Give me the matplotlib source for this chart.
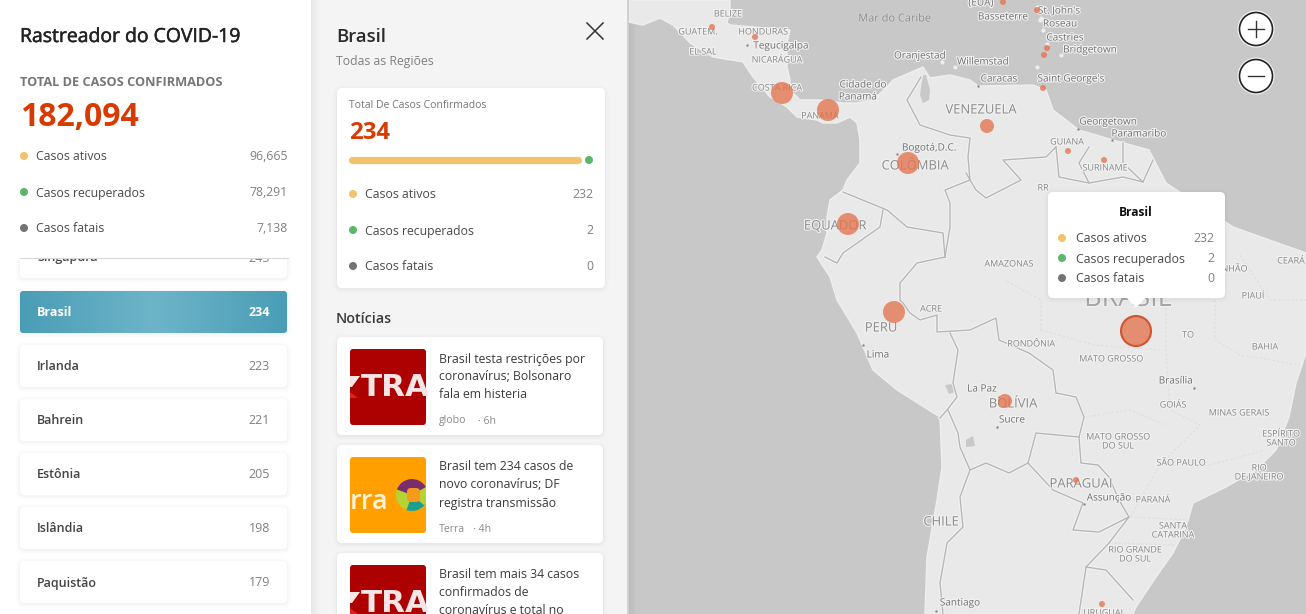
import matplotlib
matplotlib.use("Agg")
import matplotlib.patheffects as pe
import matplotlib.pyplot as plt
import numpy as np
from matplotlib.colors import LinearSegmentedColormap
from matplotlib.patches import Circle, FancyBboxPatch, Polygon, Rectangle, Wedge

plt.rcParams["font.family"] = ["Open Sans", "DejaVu Sans"]

# values
world_total = "182,094"
world_labels = ["Casos ativos", "Casos recuperados", "Casos fatais"]
world_values = ["96,665", "78,291", "7,138"]
country_names = ["Singapura", "Brasil", "Irlanda", "Bahrein", "Estônia", "Islândia", "Paquistão"]
country_values = [243, 234, 223, 221, 205, 198, 179]
brasil_total = 234
brasil_values = [232, 2, 0]
news_titles = [
    ["Brasil testa restrições por", "coronavírus; Bolsonaro", "fala em histeria"],
    ["Brasil tem 234 casos de", "novo coronavírus; DF", "registra transmissão"],
    ["Brasil tem mais 34 casos", "confirmados de", "coronavírus e total no"],
]
news_sources = ["globo", "Terra", ""]
news_ages = ["6h", "4h", ""]

# map bubbles, pixel positions on the screenshot
bubble_x = [782, 828, 908, 848, 987, 894, 1005, 1136, 1076, 1102, 712, 755, 1068, 1104, 1037, 1003, 1047, 1044, 1043]
bubble_y = [93, 110, 163, 224, 126, 312, 401, 331, 480, 604, 27, 37, 151, 160, 10, 2, 48, 55, 88]
bubble_r = [11, 11, 11, 11, 7, 11, 7, 15, 3, 3, 3, 3, 3, 3, 3, 3, 3, 3, 3]

# map labels: text, x, y
big_labels = [
    ("VENEZUELA", 981, 109), ("COLÔMBIA", 915, 165), ("EQUADOR", 835, 225), ("PERU", 881, 327),
    ("BOLÍVIA", 1013, 403), ("CHILE", 941, 521), ("PARAGUAI", 1081, 483),
]
small_labels = [
    ("GUATEM.", 698, 31), ("BELIZE", 728, 13), ("HONDURAS", 763, 31), ("EL SAL", 703, 51),
    ("NICARÁGUA", 777, 59), ("COSTA RICA", 777, 87), ("PANAMÁ", 820, 115), ("GUIANA", 1067, 141),
    ("SURINAME", 1105, 167), ("RR", 1043, 187), ("AMAZONAS", 1009, 263), ("MARANHÃO", 1222, 268),
    ("CEARÁ", 1291, 260), ("PIAUÍ", 1253, 295), ("RONDÔNIA", 1031, 343), ("MATO GROSSO", 1111, 358),
    ("TO", 1188, 334), ("BAHIA", 1265, 346), ("GOIÁS", 1173, 404), ("MINAS GERAIS", 1239, 412),
    ("ESPÍRITO", 1281, 433), ("SANTO", 1281, 442), ("MATO GROSSO", 1118, 436), ("DO SUL", 1118, 445),
    ("SÃO PAULO", 1181, 462), ("RIO", 1259, 467), ("DE JANEIRO", 1259, 476), ("PARANÁ", 1153, 499),
    ("SANTA", 1173, 525), ("CATARINA", 1173, 534), ("RIO GRANDE", 1135, 549), ("DO SUL", 1135, 558),
    ("ACRE", 931, 308), ("URUGUAI", 1103, 612),
]
city_labels = [
    ("Tegucigalpa", 781, 45), ("Cidade do", 863, 84), ("Panamá", 858, 96), ("Oranjestad", 920, 55),
    ("Bogotá,D.C.", 929, 147), ("Willemstad", 983, 61), ("Caracas", 999, 78), ("Saint George's", 1071, 78),
    ("Georgetown", 1108, 121), ("Paramaribo", 1139, 133), ("Basseterre", 1003, 16), ("St. John's", 1059, 10),
    ("Roseau", 1060, 23), ("Castries", 1065, 37), ("Bridgetown", 1090, 49), ("(EUA)", 981, 2),
    ("Brasília", 1176, 380), ("Assunção", 1109, 497), ("La Paz", 982, 388), ("Sucre", 1012, 419),
    ("Lima", 878, 354), ("Santiago", 960, 602),
]
capital_x = [747, 897, 863, 999, 997, 1084, 1194, 936, 1078, 1112, 978]
capital_y = [45, 154, 345, 397, 427, 504, 388, 611, 129, 140, 86]

# land outline
land_x = [628, 643, 660, 673, 690, 713, 743, 753, 770, 787, 797, 817, 823, 837, 850, 857, 860, 860, 847, 843, 830, 827,
          827, 822, 817, 830, 837, 857, 873, 897, 940, 942, 937, 927, 925, 1133, 1136, 1156, 1173, 1186, 1193, 1226, 1256,
          1276, 1289, 1296, 1306, 1306, 1233, 1166, 1149, 1113, 1079, 1053, 1046, 1033, 978, 970, 950, 930, 923, 893,
          887, 873, 857, 843, 820, 800, 790, 790, 787, 787, 790, 730, 727, 730, 730, 628]
land_y = [22, 25, 18, 25, 43, 57, 62, 77, 97, 107, 117, 120, 123, 123, 117, 123, 140, 163, 180, 190, 200, 217,
          233, 250, 257, 277, 300, 333, 370, 390, 417, 467, 500, 557, 614, 614, 607, 577, 553, 527, 503, 487, 470,
          450, 417, 383, 353, 253, 227, 183, 150, 140, 130, 110, 90, 85, 86, 80, 75, 78, 67, 80,
          87, 100, 103, 103, 100, 100, 90, 80, 67, 43, 30, 25, 23, 10, 0, 0]

country_borders = [
    [(921, 77), (907, 100), (920, 125), (950, 135), (970, 138), (968, 157), (970, 180), (945, 190), (950, 203), (950, 227), (945, 257)],
    [(945, 257), (943, 233), (907, 227), (887, 210), (843, 192)],
    [(883, 210), (880, 227), (843, 253), (837, 263), (825, 257)],
    [(945, 257), (917, 263), (900, 283), (900, 300), (903, 303), (910, 313), (920, 320), (937, 315), (937, 332), (970, 330), (996, 318),
     (999, 340), (1029, 353), (1053, 370), (1056, 393), (1076, 397), (1084, 417), (1079, 437), (1081, 463), (1098, 465), (1109, 477),
     (1119, 500), (1129, 517), (1109, 543), (1086, 567), (1079, 614)],
    [(950, 333), (958, 350), (953, 383), (957, 397), (947, 410), (940, 418)],
    [(948, 410), (958, 433), (960, 447), (970, 470), (960, 497), (963, 527), (947, 543), (940, 583), (943, 614)],
    [(970, 470), (986, 463), (1009, 473), (1028, 463), (1036, 433), (1079, 437)],
    [(1028, 463), (1053, 490), (1083, 503), (1073, 530), (1099, 532), (1129, 517)],
    [(1086, 567), (1106, 570), (1133, 600)],
    [(966, 173), (976, 190), (986, 198), (1021, 180), (1003, 160), (1046, 157), (1056, 147)],
    [(1056, 147), (1059, 177), (1089, 183), (1079, 163), (1089, 147)],
    [(1089, 183), (1123, 177), (1143, 182), (1153, 160)],
    [(1123, 143), (1123, 163), (1143, 182)],
]
state_borders = [
    [(1041, 330), (1041, 300), (1005, 280)],
    [(1041, 330), (1095, 345), (1160, 350)],
    [(1166, 300), (1166, 350), (1170, 410), (1200, 425), (1160, 465), (1130, 517)],
    [(1215, 260), (1215, 340), (1240, 355), (1300, 365)],
    [(1085, 417), (1130, 410), (1165, 425)],
    [(1160, 465), (1210, 465), (1265, 450)],
    [(1130, 517), (1190, 520)],
    [(1110, 543), (1176, 545)],
    [(1240, 255), (1270, 300), (1306, 300)],
]
lakes = [
    [(923, 75), (926, 75), (930, 90), (929, 100), (923, 103), (920, 95)],
    [(945, 385), (952, 384), (955, 392), (949, 394)],
    [(966, 440), (973, 436), (975, 446), (966, 447)],
]
ilhas_x = [1037, 1041, 1043, 1061, 1037, 955, 942, 1047, 1040]
ilhas_y = [7, 18, 30, 55, 67, 67, 62, 44, 20]

ORANGE = "#d83b01"
DOT_COLORS = ["#f2c36b", "#5cb66a", "#737373"]
TEXT = "#3a3a3a"
GREY = "#767676"


def card(ax, x0, y0, x1, y1, color="white", radius=5, z=3, shadow=True):
    if shadow:
        for grow, alpha in [(4, 0.008), (2.5, 0.012), (1.2, 0.018)]:
            ax.add_patch(FancyBboxPatch((x0 - grow, y0 - grow + 1), x1 - x0 + 2 * grow, y1 - y0 + 2 * grow,
                                        boxstyle=f"round,pad=0,rounding_size={radius + grow}",
                                        fc="black", ec="none", alpha=alpha, zorder=z))
    patch = FancyBboxPatch((x0, y0), x1 - x0, y1 - y0, boxstyle=f"round,pad=0,rounding_size={radius}",
                           fc=color, ec="none", zorder=z)
    ax.add_patch(patch)
    return patch


def px_text(ax, x, y, s, size, color=TEXT, ha="left", weight="normal", z=5, **kw):
    # size is given in screen pixels, +1 because the font sits high
    return ax.text(x, y + 1, s, fontsize=size * 0.72, color=color, ha=ha, va="center", fontweight=weight, zorder=z, **kw)


def dot(ax, x, y, color, r=4, z=5):
    ax.add_patch(Circle((x, y), r, fc=color, ec="none", zorder=z))


def legend_rows(ax, ys, dot_x, text_x, value_x, values, size=12.3, z=5):
    for y, label, value, color in zip(ys, world_labels, values, DOT_COLORS):
        dot(ax, dot_x, y, color, z=z)
        px_text(ax, text_x, y, label, size, color="#4a4a4a", z=z)
        px_text(ax, value_x, y, str(value), size, color="#808080", ha="right", z=z)


def draw_map(ax):
    ax.add_patch(Rectangle((628, 0), 678, 614, fc="#c8c8c8", ec="none", zorder=0))
    ax.imshow(np.zeros((1, 10)), extent=(628, 638, 614, 0), cmap="gray", vmin=0, vmax=1,
              alpha=np.linspace(0.07, 0, 10).reshape(1, -1), aspect="auto", zorder=0.5)
    ax.add_patch(Polygon(np.column_stack([land_x, land_y]), fc="#e9e9e9", ec="#efefef", lw=1, zorder=1))
    ax.scatter(ilhas_x, ilhas_y, s=9, c="#eeeeee", linewidths=0, zorder=1)
    for lake in lakes:
        ax.add_patch(Polygon(lake, fc="#c8c8c8", ec="none", zorder=1.1))
    for line in state_borders:
        xs, ys = zip(*line)
        ax.plot(xs, ys, color="#dedede", lw=0.8, ls=(0, (2, 2)), zorder=1.2)
    for line in country_borders:
        xs, ys = zip(*line)
        ax.plot(xs, ys, color="#f3f3f3", lw=2.4, solid_joinstyle="round", zorder=1.3)
        ax.plot(xs, ys, color="#b6b6b6", lw=1.0, solid_joinstyle="round", zorder=1.4)
    ax.scatter(capital_x, capital_y, s=3, c="#8a8a8a", linewidths=0, zorder=1.5)

    halo = [pe.withStroke(linewidth=1.6, foreground="#f2f2f2")]
    for s, x, y in big_labels:
        t = px_text(ax, x, y, s, 13, color="#8a8a8a", ha="center", z=2)
        t.set_path_effects(halo)
    t = px_text(ax, 1128, 298, "BRASIL", 27, color="#a6a6a6", ha="center", z=2)
    t.set_path_effects(halo)
    for s, x, y in small_labels:
        t = px_text(ax, x, y, s, 9, color="#858585", ha="center", z=2)
        t.set_path_effects(halo)
    for s, x, y in city_labels:
        t = px_text(ax, x, y, s, 10, color="#707070", ha="center", z=2)
        t.set_path_effects(halo)
    t = px_text(ax, 895, 18, "Mar do Caribe", 11, color="#8a8a8a", ha="center", z=2)
    t.set_path_effects([pe.withStroke(linewidth=1.2, foreground="#d4d4d4")])

    sizes = [(2 * r * 0.72) ** 2 for r in bubble_r]
    ax.scatter(bubble_x, bubble_y, s=sizes, c="#e5734e", alpha=0.78, linewidths=0, zorder=3)
    # selected country ring
    ax.add_patch(Circle((1136, 331), 15, fc="none", ec="#cf5430", lw=1.5, zorder=3.1))

    # tooltip
    card(ax, 1048, 192, 1225, 298, z=6)
    ax.add_patch(Polygon([(1126, 297), (1146, 297), (1136, 308)], fc="white", ec="none", zorder=6))
    px_text(ax, 1136, 212, "Brasil", 12, color="#111111", ha="center", weight="bold", z=7)
    legend_rows(ax, [238, 258, 278], 1062, 1076, 1214, brasil_values, z=7)

    # zoom buttons
    for y in (29, 76):
        ax.add_patch(Circle((1256, y), 18.5, fc="#f4f4f4", ec="none", zorder=6))
        ax.add_patch(Circle((1256, y), 16.5, fc="white", ec="#222222", lw=1.2, zorder=6))
        ax.plot([1248, 1264], [y, y], color="#333333", lw=1, zorder=7)
    ax.plot([1256, 1256], [21, 37], color="#333333", lw=1, zorder=7)


def draw_left_panel(ax):
    ax.add_patch(Rectangle((0, 0), 311, 614, fc="white", ec="none", zorder=2))
    for name, value, y in zip(country_names, country_values, [257, 312, 366, 420, 474, 528, 582]):
        selected = name == "Brasil"
        patch = card(ax, 20, y - 21, 287, y + 21, color="#58a6bd" if selected else "white", radius=4, z=3)
        if selected:
            grad = np.abs(np.linspace(-1, 1, 200)).reshape(1, -1)
            teal = LinearSegmentedColormap.from_list("teal", ["#6db4c8", "#4a9db6"])
            im = ax.imshow(grad, extent=(20, 287, 333, 291), cmap=teal, aspect="auto", zorder=3.2)
            im.set_clip_path(patch)
        px_text(ax, 37, y, name, 12.5, color="white" if selected else "#444444", weight="bold" if selected else 600, z=4)
        px_text(ax, 270, y, str(value), 12.5, color="white" if selected else "#808080", ha="right",
                weight="bold" if selected else "normal", z=4)
    # fixed header hides the top of the scrolling list
    ax.add_patch(Rectangle((0, 0), 311, 258, fc="white", ec="none", zorder=4.5))
    ax.plot([20, 288], [258, 258], color="#d9d9d9", lw=0.8, zorder=4.6)
    title = px_text(ax, 20, 36, "Rastreador do COVID-19", 19.4, color="#222222")
    title.set_path_effects([pe.withStroke(linewidth=0.35, foreground="#222222")])
    px_text(ax, 20, 81, "TOTAL DE CASOS CONFIRMADOS", 12.7, color=GREY, weight="bold")
    px_text(ax, 20, 116, world_total, 32, color=ORANGE, weight="bold")
    legend_rows(ax, [156, 192, 228], 24, 36, 288, world_values)


def draw_logo(ax, y0, kind):
    patch = FancyBboxPatch((350, y0), 76, 76, boxstyle="round,pad=0,rounding_size=3",
                           fc="#ad0000" if kind == "globo" else "#ffa000", ec="none", zorder=4)
    ax.add_patch(patch)
    if kind == "globo":
        t = px_text(ax, 361, y0 + 38, "TRA", 31, color="#f7e4e4", weight="bold", z=4.5, family="DejaVu Sans")
        t.set_clip_path(patch)
        ax.add_patch(Polygon([(350, y0 + 27), (360, y0 + 27), (352, y0 + 38), (350, y0 + 38)], fc="#f7e4e4", ec="none", zorder=4.5))
        ax.add_patch(Polygon([(350, y0 + 43), (358, y0 + 49), (350, y0 + 49)], fc="#e02020", ec="none", zorder=4.5))
    else:
        t = px_text(ax, 350, y0 + 44, "rra", 27, color="#fff3d8", weight=600, z=4.5)
        t.set_clip_path(patch)
        cx, cy = 412, y0 + 38
        parts = [
            Circle((cx, cy), 16, fc="#b5d334", ec="none", zorder=4.5),
            Wedge((cx, cy), 16, 200, 330, fc="#7a2d6b", ec="none", zorder=4.5),
            Wedge((cx, cy), 16, 40, 110, fc="#1f9d8f", ec="none", zorder=4.5),
            FancyBboxPatch((cx - 5, cy - 7), 13, 14, boxstyle="round,pad=0,rounding_size=4",
                           fc="#f59a1b", ec="none", zorder=4.6),
        ]
        for part in parts:
            ax.add_patch(part)
            part.set_clip_path(patch)


def draw_detail_panel(ax):
    ax.add_patch(Rectangle((311, 0), 316, 614, fc="#f4f4f4", ec="none", zorder=1))
    ax.imshow(np.zeros((1, 10)), extent=(311, 321, 614, 0), cmap="gray", vmin=0, vmax=1,
              alpha=np.linspace(0.05, 0, 10).reshape(1, -1), aspect="auto", zorder=1.1)
    ax.add_patch(Rectangle((627, 0), 1.5, 614, fc="#d0d0d0", ec="none", zorder=1.2))
    px_text(ax, 336, 36, "Brasil", 18.5, color="#2a2a2a", weight=600)
    px_text(ax, 336, 61, "Todas as Regiões", 12.2, color="#808080")
    ax.plot([587, 603], [23, 39], color="#333333", lw=1.1, zorder=5)
    ax.plot([587, 603], [39, 23], color="#333333", lw=1.1, zorder=5)

    card(ax, 337, 88, 605, 288)
    px_text(ax, 349, 104, "Total De Casos Confirmados", 10.4, color=GREY)
    px_text(ax, 349, 132, str(brasil_total), 24, color=ORANGE, weight="bold")
    # progress bar split by the counts
    bar_end = 349 + (589 - 349 - 8) * brasil_values[0] / sum(brasil_values)
    ax.plot([352, bar_end - 1], [160, 160], color=DOT_COLORS[0], lw=5.2, solid_capstyle="round", zorder=5)
    dot(ax, 589, 160, DOT_COLORS[1])
    legend_rows(ax, [194, 230, 266], 353, 365, 593, brasil_values)

    px_text(ax, 336, 318, "Notícias", 14.3, color="#3a3a3a", weight=600)
    for i, (lines, source, age) in enumerate(zip(news_titles, news_sources, news_ages)):
        top = 337 + 108 * i
        card(ax, 337, top, 603, top + 98)
        draw_logo(ax, top + 12, "terra" if source == "Terra" else "globo")
        for j, line in enumerate(lines):
            px_text(ax, 439, top + 21 + 18 * j, line, 12.3, color="#3c3c3c")
        if source:
            px_text(ax, 439, top + 83, source, 10.5, color="#8a8a8a")
            px_text(ax, 478 if source == "globo" else 473, top + 83, "· " + age, 10.5, color="#8a8a8a")


fig = plt.figure(figsize=(13.06, 6.14), dpi=100)
ax = fig.add_axes([0, 0, 1, 1])
draw_map(ax)
draw_detail_panel(ax)
draw_left_panel(ax)
ax.set_xlim(0, 1306)
ax.set_ylim(614, 0)
ax.axis("off")
fig.savefig("out.png", dpi=100)
